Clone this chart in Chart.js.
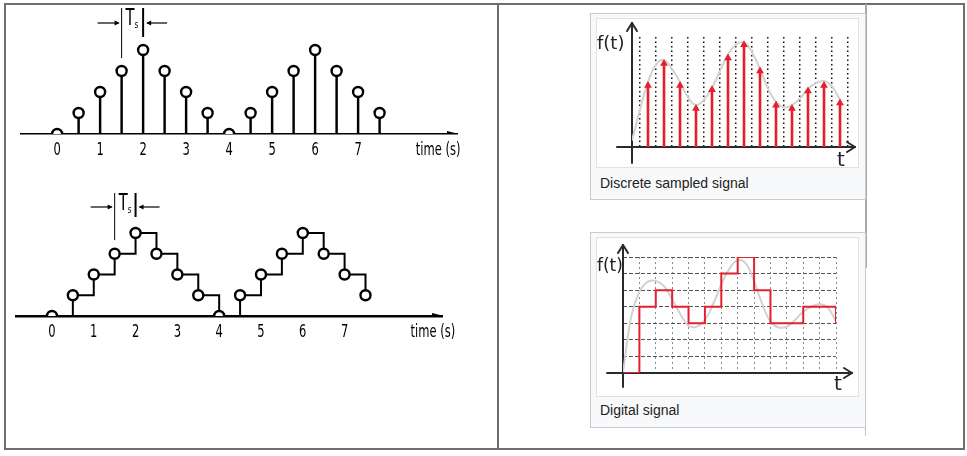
<!DOCTYPE html>
<html>
<head>
<meta charset="utf-8">
<script src="https://cdn.jsdelivr.net/npm/chart.js@4.4.1/dist/chart.umd.min.js"></script>
<style>
  body { margin: 0; background: #fff; }
  #page { position: relative; width: 967px; height: 456px; overflow: hidden; font-family: "Liberation Sans", Arial, sans-serif; }
  #page > * { position: absolute; }
  .frame { left: 4px; top: 3px; width: 961px; height: 447px; box-sizing: border-box; border: 2px solid #6e6e6e; }
  .divider { left: 497px; top: 3px; width: 2px; height: 447px; background: #6e6e6e; }
  .edge { left: 865px; top: 4px; width: 1px; height: 432px; background: #c4c4c4; }
  .edge2 { left: 865px; top: 4px; width: 2px; height: 264px; background: #a9a9a9; }
  .card { box-sizing: border-box; border: 1px solid #c8ccd1; background: #f8f9fa; }
  .thumb { box-sizing: border-box; border: 1px solid #dfe1e4; background: #fff; }
  .cap { font-size: 14px; color: #222; line-height: 16px; }
  .lbl { font-family: "DejaVu Sans", sans-serif; color: #222; line-height: 20px; }
</style>
</head>
<body>
<div id="page">
  <div class="frame"></div>
  <div class="divider"></div>
  <div class="edge"></div>
  <div class="edge2"></div>

  <div class="card" style="left:590px;top:13px;width:276px;height:187px"></div>
  <div class="thumb" style="left:596px;top:18px;width:263px;height:150px"></div>
  <div class="cap" style="left:600px;top:175px">Discrete sampled signal</div>

  <div class="card" style="left:590px;top:232px;width:276px;height:196px"></div>
  <div class="thumb" style="left:596px;top:237px;width:263px;height:160px"></div>
  <div class="cap" style="left:600px;top:402px">Digital signal</div>

  <canvas id="sampled" width="495" height="170" style="left:0;top:0"></canvas>
  <canvas id="held" width="495" height="180" style="left:0;top:175px"></canvas>
  <canvas id="discrete" width="263" height="149" style="left:596px;top:18px"></canvas>
  <canvas id="digital" width="263" height="159" style="left:596px;top:237px"></canvas>

  <div class="lbl" style="left:597px;top:33px;font-size:18px">f(t)</div>
  <div class="lbl" style="left:837px;top:149px;font-size:20px">t</div>
  <div class="lbl" style="left:597px;top:255px;font-size:17px">f(t)</div>
  <div class="lbl" style="left:834px;top:373px;font-size:20px">t</div>
</div>

<script>
// ---- left: samples every Ts = 0.5 s ----
const sampleTimes  = [0, 0.5, 1, 1.5, 2, 2.5, 3, 3.5, 4, 4.5, 5, 5.5, 6, 6.5, 7, 7.5];
const sampleLevels = [0, 1, 2, 3, 4, 3, 2, 1, 0, 1, 2, 3, 4, 3, 2, 1];
const heldLevels   = [0, 1, 2, 3, 4, 3, 2, 1, 0, 1, 2, 3, 4, 3, 2, 1];
const timeTicks = [0, 1, 2, 3, 4, 5, 6, 7];
const timeLabel = 'time (s)';

// ---- right top: discrete sampled signal ----
const pulseTimes  = [1, 2, 3, 4, 5, 6, 7, 8, 9, 10, 11, 12, 13];
const pulseValues = [5.6, 7.6, 5.6, 3.5, 5.2, 8.1, 9.3, 6.9, 3.8, 3.5, 5.1, 5.6, 4.0];
const curveTimes  = [0, 0.5, 1, 1.5, 2, 2.5, 3, 3.5, 4, 4.5, 5, 5.5, 6, 6.5, 7, 7.5, 8, 8.5, 9, 9.5, 10, 10.5, 11, 11.5, 12, 12.5, 13];
const curveValues = [0.6, 3.4, 5.9, 7.5, 7.9, 7.1, 5.9, 4.5, 3.8, 4.3, 5.4, 6.9, 8.4, 9.3, 9.5, 8.6, 7.1, 5.3, 4.1, 3.6, 3.8, 4.4, 5.3, 5.8, 6.0, 5.5, 4.3];

// ---- right bottom: digital signal ----
const stepTimes  = [0, 1, 2, 3, 4, 5, 6, 7, 8, 9, 10, 11, 12, 13];
const stepLevels = [0, 4, 5, 4, 3, 4, 6, 7, 5, 3, 3, 4, 4, 3];
const gridLevels = [1, 2, 3, 4, 5, 6, 7];
const analogTimes  = [0, 0.5, 1, 1.5, 2, 2.5, 3, 3.5, 4, 4.5, 5, 5.5, 6, 6.5, 7, 7.5, 8, 8.5, 9, 9.5, 10, 10.5, 11, 11.5, 12, 12.5, 13];
const analogValues = [0, 3.4, 4.9, 5.5, 5.55, 5.25, 4.45, 3.55, 2.85, 2.8, 3.2, 4.15, 5.35, 6.3, 6.8, 6.6, 5.55, 4.15, 3.1, 2.75, 2.8, 3.2, 3.7, 4.0, 4.15, 3.95, 3.1];

const NARROW = '"DejaVu Sans", sans-serif';
const SQUEEZE = 0.64;
const RED = '#e3202b';

const pts = (xs, ys) => xs.map((x, i) => ({ x: x, y: ys[i] }));

function seg(ctx, x1, y1, x2, y2) {
  ctx.beginPath(); ctx.moveTo(x1, y1); ctx.lineTo(x2, y2); ctx.stroke();
}

// condensed text (the original uses a narrow typeface)
function narrowText(ctx, text, x, y, size, align) {
  ctx.save();
  ctx.translate(x, y);
  ctx.scale(SQUEEZE, 1);
  ctx.font = size + 'px ' + NARROW;
  ctx.textAlign = align;
  ctx.textBaseline = 'middle';
  ctx.fillText(text, 0, 0);
  ctx.restore();
}

// time-axis labels, Ts marker and the small arrow at the axis end
const periodPlugin = {
  id: 'period',
  afterDraw(chart, args, o) {
    const { ctx } = chart;
    const xs = chart.scales.x, ys = chart.scales.y;
    const y0 = ys.getPixelForValue(0), xr = chart.chartArea.right;
    ctx.save();
    ctx.strokeStyle = '#000'; ctx.fillStyle = '#000';

    xs.ticks.forEach(t => narrowText(ctx, t.label, xs.getPixelForValue(t.value), y0 + o.labelDy, 18, 'center'));

    const a = xs.getPixelForValue(o.from), b = xs.getPixelForValue(o.to);
    ctx.lineWidth = 1;
    seg(ctx, a, o.top, a, o.top + o.lenA);
    ctx.lineWidth = 2;
    seg(ctx, b, o.top, b, o.top + o.lenB);
    const ay = o.top + o.arrowY;
    ctx.lineWidth = 1.2;
    seg(ctx, a - 24, ay, a - 3, ay);
    seg(ctx, b + 24, ay, b + 4, ay);
    ctx.beginPath(); ctx.moveTo(a - 2, ay); ctx.lineTo(a - 7, ay - 2.5); ctx.lineTo(a - 7, ay + 2.5); ctx.fill();
    ctx.beginPath(); ctx.moveTo(b + 3, ay); ctx.lineTo(b + 8, ay - 2.5); ctx.lineTo(b + 8, ay + 2.5); ctx.fill();
    narrowText(ctx, 'T', a + 4, o.top + 11, 23, 'left');
    narrowText(ctx, 's', a + 13, o.top + 17, 11, 'left');

    ctx.beginPath(); ctx.moveTo(xr, y0 - 0.5); ctx.lineTo(xr - 10, y0 - 3); ctx.lineTo(xr - 10, y0); ctx.fill();
    ctx.restore();
  }
};

// arrowed axes through the origin
const arrowAxesPlugin = {
  id: 'arrowAxes',
  beforeDatasetsDraw(chart, args, o) {
    const { ctx } = chart;
    const x0 = chart.scales.x.getPixelForValue(0), y0 = chart.scales.y.getPixelForValue(0);
    ctx.save();
    ctx.strokeStyle = '#2a2a2a'; ctx.lineWidth = 2; ctx.lineCap = 'round';
    const xe = x0 + o.right, ye = y0 - o.up;
    seg(ctx, x0 - o.left, y0, xe, y0);
    seg(ctx, xe - 8, y0 - 5, xe, y0); seg(ctx, xe - 8, y0 + 5, xe, y0);
    seg(ctx, x0, y0 + o.down, x0, ye);
    seg(ctx, x0 - 5, ye + 8, x0, ye); seg(ctx, x0 + 5, ye + 8, x0, ye);
    ctx.restore();
  }
};

const quiet = { legend: { display: false }, tooltip: { enabled: false } };

function timeAxis(min, max, labelAt, width) {
  return {
    type: 'linear', min: min, max: max, offset: false,
    afterBuildTicks: s => { s.ticks = timeTicks.concat([labelAt]).map(v => ({ value: v })); },
    ticks: {
      display: false, autoSkip: false,
      callback: (v, i) => i === timeTicks.length ? timeLabel : String(v)
    },
    grid: { display: false, drawTicks: false },
    border: { display: true, color: '#000', width: width }
  };
}

const circleStyle = {
  showLine: false, pointRadius: 5, pointBorderWidth: 2.4,
  pointBackgroundColor: '#fff', pointBorderColor: '#000', order: 1
};

// top left: sampled signal (stems)
new Chart(document.getElementById('sampled'), {
  type: 'line',
  data: {
    datasets: [
      { type: 'bar', data: pts(sampleTimes, sampleLevels), backgroundColor: '#000', barThickness: 1.8, order: 2 },
      Object.assign({ data: pts(sampleTimes, sampleLevels) }, circleStyle)
    ]
  },
  options: {
    responsive: false, animation: false, events: [],
    layout: { padding: { left: 21, right: 38, top: 8, bottom: 36 } },
    plugins: Object.assign({ period: { from: 1.5, to: 2, top: 8, lenA: 50, lenB: 29, arrowY: 15, labelDy: 16 } }, quiet),
    scales: { x: timeAxis(-0.84, 9.3, 8.86, 1.5), y: { display: false, min: 0, max: 6 } }
  },
  plugins: [periodPlugin]
});

// bottom left: sample and hold
new Chart(document.getElementById('held'), {
  type: 'line',
  data: {
    datasets: [
      Object.assign({ data: pts(sampleTimes, heldLevels) }, circleStyle,
        { showLine: true, stepped: true, borderColor: '#000', borderWidth: 2 })
    ]
  },
  options: {
    responsive: false, animation: false, events: [],
    layout: { padding: { left: 16, right: 53, top: 16.5, bottom: 39 } },
    plugins: Object.assign({ period: { from: 1.5, to: 2, top: 18, lenA: 47, lenB: 24, arrowY: 14, labelDy: 16 } }, quiet),
    scales: { x: timeAxis(-0.86, 9.33, 9.11, 2.5), y: { display: false, min: 0, max: 6 } }
  },
  plugins: [periodPlugin]
});

// top right: discrete sampled signal
new Chart(document.getElementById('discrete'), {
  type: 'line',
  data: {
    datasets: [
      { data: pts(curveTimes, curveValues), borderColor: '#d2d2d2', borderWidth: 2, tension: 0.4, pointRadius: 0, order: 3 },
      { type: 'bar', data: pts(pulseTimes, pulseValues), backgroundColor: RED, barThickness: 2, order: 2 },
      { data: pts(pulseTimes, pulseValues), showLine: false, pointStyle: 'triangle', pointRadius: 4.5,
        pointBackgroundColor: RED, pointBorderWidth: 0, order: 1 }
    ]
  },
  options: {
    responsive: false, animation: false, events: [],
    layout: { padding: { left: 36, right: 11, top: 19, bottom: 20 } },
    plugins: Object.assign({ arrowAxes: { left: 15, right: 223, down: 16, up: 124 } }, quiet),
    scales: {
      x: {
        type: 'linear', min: 0, max: 13.5, offset: false, z: 1,
        afterBuildTicks: s => { s.ticks = pulseTimes.map(v => ({ value: v })); },
        ticks: { display: false },
        grid: { color: '#111', lineWidth: 1.5, drawTicks: false },
        border: { display: false, dash: [1.5, 3] }
      },
      y: { display: false, min: 0, max: 10 }
    }
  },
  plugins: [arrowAxesPlugin]
});

// bottom right: digital signal
new Chart(document.getElementById('digital'), {
  type: 'line',
  data: {
    datasets: [
      { data: pts(analogTimes, analogValues), borderColor: '#d2d2d2', borderWidth: 2, tension: 0.4, pointRadius: 0, order: 2 },
      { data: pts(stepTimes, stepLevels), borderColor: RED, borderWidth: 2, stepped: true, pointRadius: 0, order: 1 }
    ]
  },
  options: {
    responsive: false, animation: false, events: [],
    layout: { padding: { left: 27, right: 23, top: 20, bottom: 23 } },
    plugins: Object.assign({ arrowAxes: { left: 16, right: 229, down: 14, up: 128 } }, quiet),
    scales: {
      x: {
        type: 'linear', min: 0, max: 13, offset: false,
        afterBuildTicks: s => { s.ticks = stepTimes.slice(1).map(v => ({ value: v })); },
        ticks: { display: false },
        grid: { color: '#888', lineWidth: 1, drawTicks: false },
        border: { display: false, dash: [2, 3] }
      },
      y: {
        type: 'linear', min: 0, max: 7,
        afterBuildTicks: s => { s.ticks = gridLevels.map(v => ({ value: v })); },
        ticks: { display: false },
        grid: { color: '#555', lineWidth: 1, drawTicks: false },
        border: { display: false, dash: [4, 2] }
      }
    }
  },
  plugins: [arrowAxesPlugin]
});
</script>
</body>
</html>
